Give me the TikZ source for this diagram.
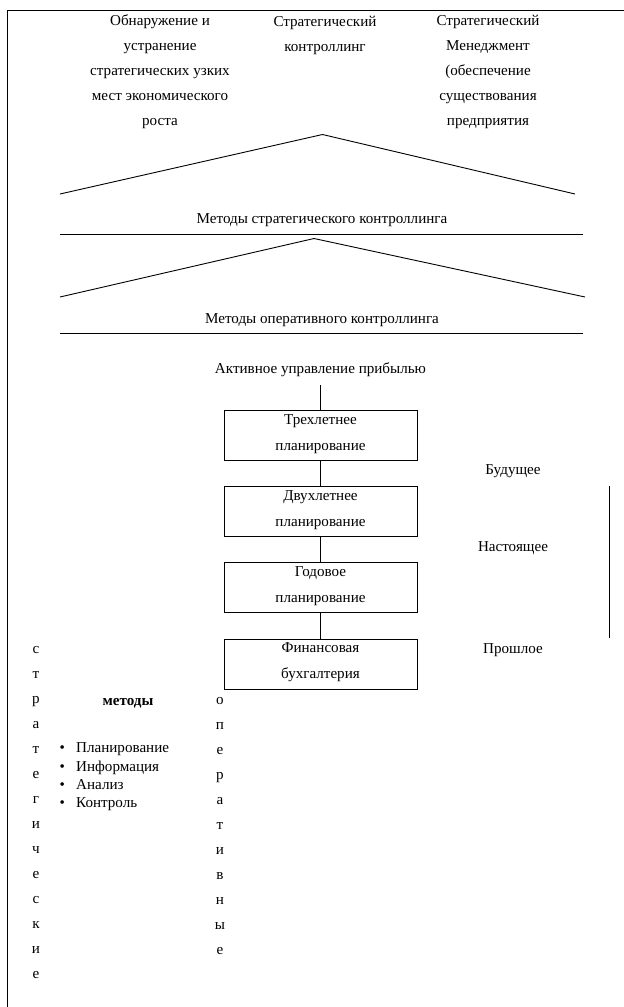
\documentclass[tikz,border=0pt]{standalone}
\usepackage{fontspec}
\setmainfont{Liberation Serif}
\begin{document}
\begin{tikzpicture}[x=1pt,y=-1pt,
  every node/.style={inner sep=0pt, font=\fontsize{15.1}{25}\selectfont},
  txt/.style={align=center, font=\fontsize{15.1}{25}\selectfont},
  bt/.style={align=center, font=\fontsize{15.1}{26}\selectfont},
  vert/.style={align=center, font=\fontsize{15.1}{25}\selectfont},
  lst/.style={align=left, font=\fontsize{15.1}{18.3}\selectfont},
  boxnode/.style={draw, line width=0.9pt, minimum width=193pt, minimum height=50pt},
  ln/.style={line width=0.9pt}]
\useasboundingbox (0,0) rectangle (624,1007);
% frame
\draw[line width=1pt] (624,10) -- (7,10) -- (7,1007);
% top texts
\node[txt] (c1) at (160,72) {Обнаружение и\\устранение\\стратегических узких\\мест экономического\\роста};
\node[txt] (c2) at (325,35.5) {Стратегический\\контроллинг};
\node[txt] (c3) at (488,72) {Стратегический\\Менеджмент\\(обеспечение\\существования\\предприятия};
% roofs
\draw[ln] (60,194) -- (322.5,134.5) -- (575,194);
\node (m1) at (322,220) {Методы стратегического контроллинга};
\draw[ln] (60,234) -- (583,234);
\draw[ln] (60,297) -- (314,238.5) -- (585,297);
\node (m2) at (322,320.5) {Методы оперативного контроллинга};
\draw[ln] (60,333.5) -- (583,333.5);
% chain
\node (act) at (320.5,370) {Активное управление прибылью};
\node[boxnode] (b1) at (320.5,435.5) {};
\node[boxnode] (b2) at (320.5,511.5) {};
\node[boxnode] (b3) at (320.5,587.5) {};
\node[boxnode] (b4) at (320.5,664) {};
\node[bt] (t1) at (320.5,434) {Трехлетнее\\планирование};
\node[bt] (t2) at (320.5,510.5) {Двухлетнее\\планирование};
\node[bt] (t3) at (320.5,586.5) {Годовое\\планирование};
\node[bt] (t4) at (320.5,662.5) {Финансовая\\бухгалтерия};
\draw[ln] ([yshift=-8pt]act.south) -- (b1.north);
\draw[ln] (b1) -- (b2);
\draw[ln] (b2) -- (b3);
\draw[ln] (b3) -- (b4);
% time labels
\node (fut) at (513,471) {Будущее};
\node (pres) at (513,548) {Настоящее};
\node (past) at (513,650) {Прошлое};
\draw[ln] (609,486) -- (609,638);
% bottom
\node[vert] (strat) at (36,812.5) {с\\т\\р\\а\\т\\е\\г\\и\\ч\\е\\с\\к\\и\\е};
\node[vert] (oper) at (220,826.5) {о\\п\\е\\р\\а\\т\\и\\в\\н\\ы\\е};
\node[font=\fontsize{15.1}{25}\selectfont\bfseries] (met) at (128,703) {методы};
\node[lst, anchor=west] (list) at (59.5,777) {\makebox[16.5pt][l]{•}Планирование\\\makebox[16.5pt][l]{•}Информация\\\makebox[16.5pt][l]{•}Анализ\\\makebox[16.5pt][l]{•}Контроль};
\end{tikzpicture}
\end{document}
